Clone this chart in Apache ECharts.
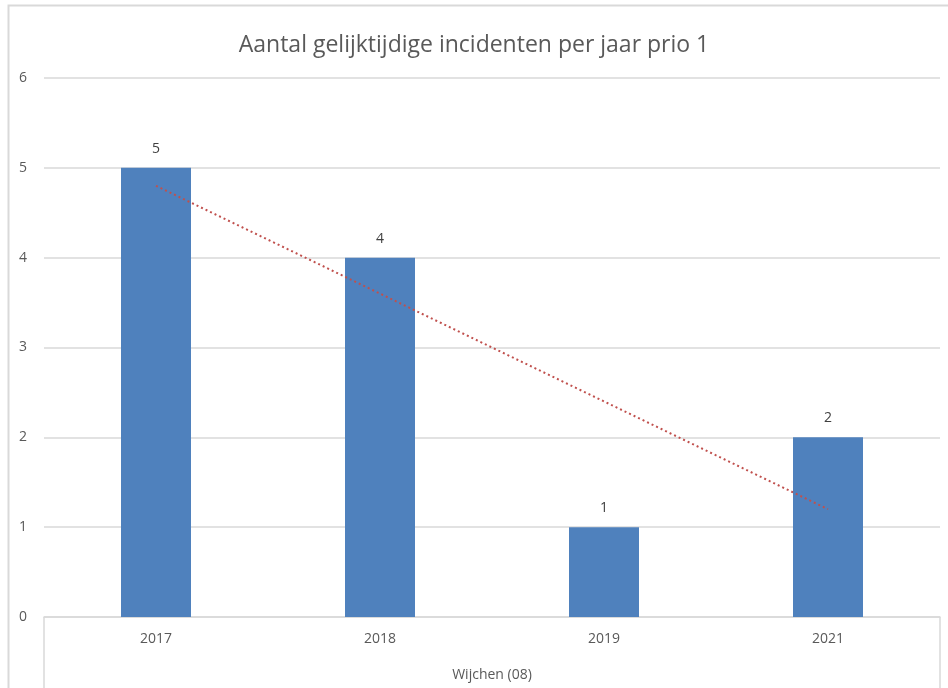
<!DOCTYPE html>
<html>
<head>
<meta charset="utf-8">
<script src="https://cdn.jsdelivr.net/npm/echarts@6/dist/echarts.min.js"></script>
<style>
  html, body { margin: 0; padding: 0; background: #fff; }
  #chart { width: 948px; height: 688px; }
</style>
</head>
<body>
<div id="chart"></div>
<script>
var years = ['2017', '2018', '2019', '2021'];
var groupLabel = ['Wijchen (08)'];
var counts = [5, 4, 1, 2];
// lineaire trendlijn
var trend = [4.8, 3.6, 2.4, 1.2];
var yTicks = [0, 6, 1]; // min, max, stap

var fontFam = "'Liberation Sans Narrow', 'Open Sans', sans-serif";
var txtColor = '#595959';
var lineColor = '#d9d9d9';

var chart = echarts.init(document.getElementById('chart'));

var option = {
    animation: false,
    title: {
        text: 'Aantal gelijktijdige incidenten per jaar prio 1',
        left: 'center',
        top: 29,
        textStyle: {
            color: txtColor,
            fontFamily: fontFam,
            fontSize: 23,
            fontWeight: 'normal'
        }
    },
    graphic: [
        {
            type: 'rect',
            shape: { x: 8.5, y: 5.5, width: 960, height: 700 },
            style: { fill: 'none', stroke: lineColor, lineWidth: 2 },
            silent: true
        }
    ],
    grid: {
        left: 44,
        right: 8,
        top: 78,
        bottom: 71
    },
    xAxis: [
        {
            type: 'category',
            data: years,
            axisLine: { show: true, lineStyle: { color: lineColor, width: 1.5 } },
            axisTick: { show: false },
            axisLabel: {
                color: txtColor,
                fontFamily: fontFam,
                fontSize: 14,
                margin: 15
            }
        },
        {
            type: 'category',
            data: groupLabel,
            position: 'bottom',
            axisLine: { show: false },
            axisTick: {
                show: true,
                length: 75,
                lineStyle: { color: lineColor, width: 1.5 }
            },
            axisLabel: {
                color: txtColor,
                fontFamily: fontFam,
                fontSize: 14,
                margin: 51
            }
        }
    ],
    yAxis: {
        type: 'value',
        min: yTicks[0],
        max: yTicks[1],
        interval: yTicks[2],
        axisLine: { show: false },
        axisTick: { show: false },
        axisLabel: {
            color: txtColor,
            fontFamily: fontFam,
            fontSize: 14,
            margin: 17
        },
        splitLine: { lineStyle: { color: lineColor, width: 1.5 } }
    },
    series: [
        {
            type: 'bar',
            data: counts,
            barWidth: 70,
            itemStyle: { color: '#4f81bd' },
            label: {
                show: true,
                position: 'top',
                distance: 12,
                color: '#404040',
                fontFamily: fontFam,
                fontSize: 14
            }
        },
        {
            type: 'line',
            data: trend,
            symbol: 'none',
            lineStyle: {
                color: '#c0504d',
                width: 2,
                type: [2, 3]
            },
            z: 3
        }
    ]
};

chart.setOption(option);
</script>
</body>
</html>
